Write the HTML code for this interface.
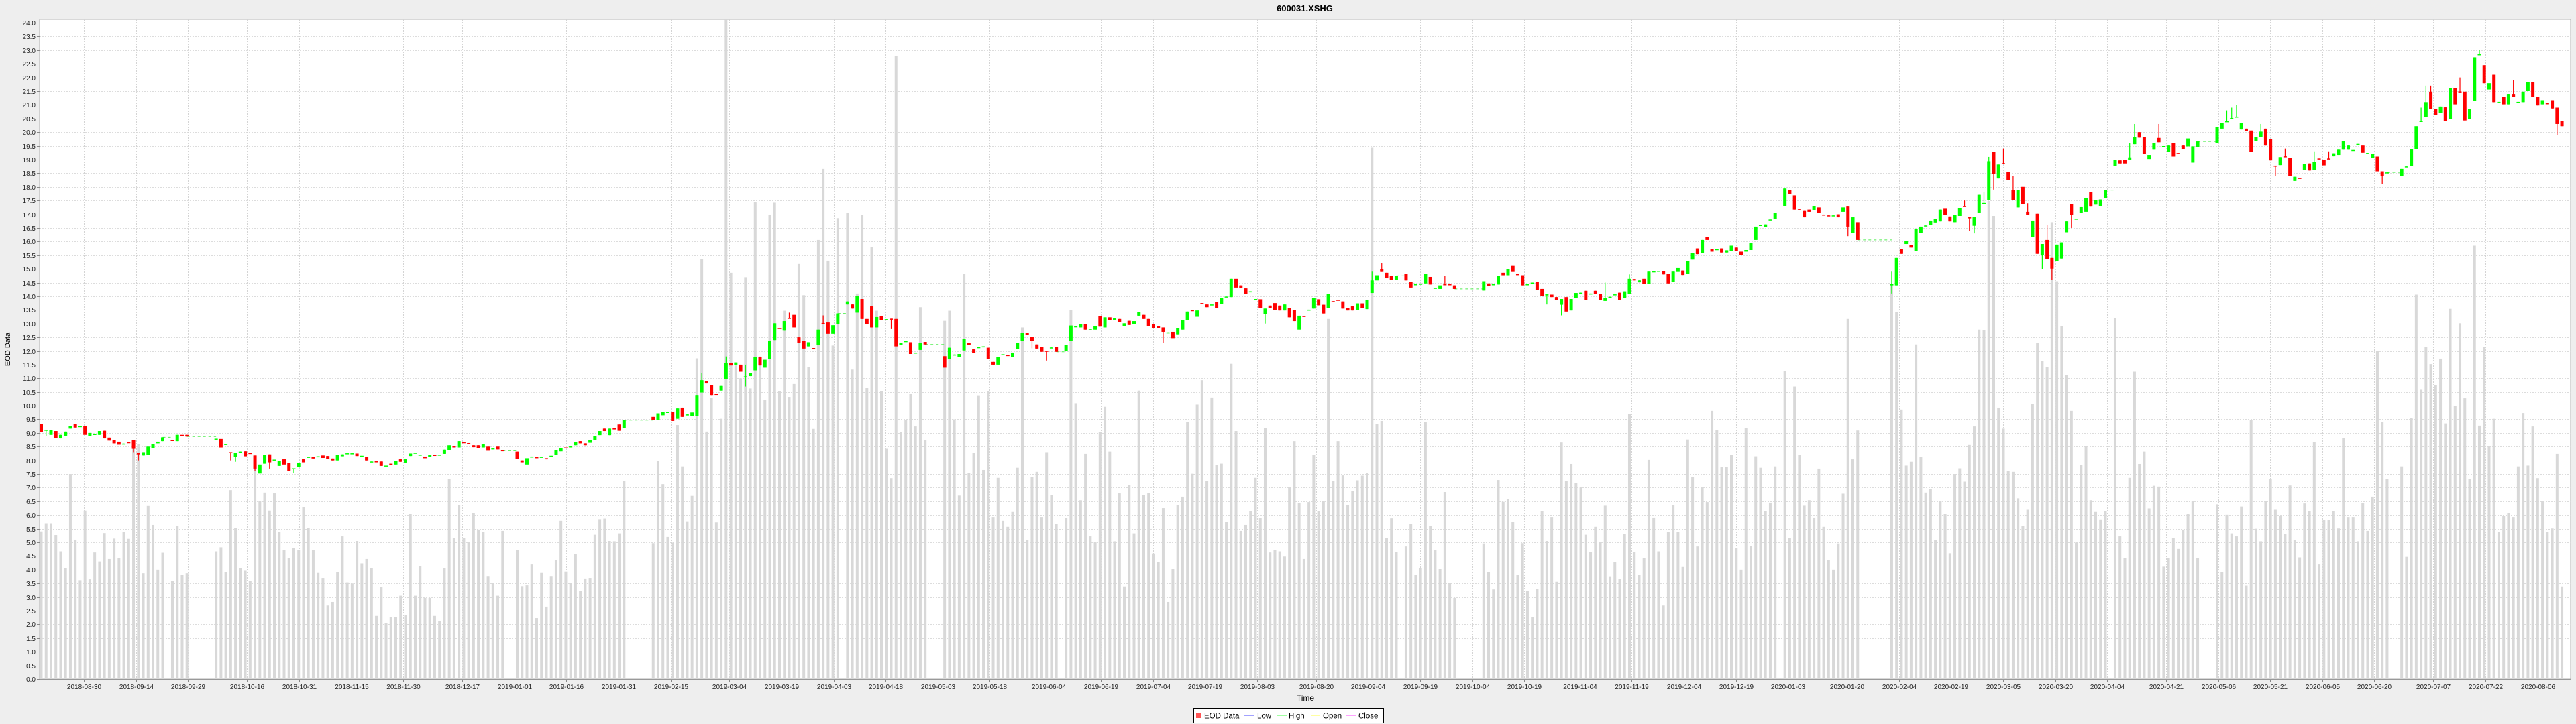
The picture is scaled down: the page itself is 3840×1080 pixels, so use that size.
<!DOCTYPE html>
<html><head><meta charset="utf-8"><title>600031.XSHG</title>
<style>
html,body{margin:0;padding:0;background:#eeeeee;}
body{width:3840px;height:1080px;overflow:hidden;font-family:"Liberation Sans",sans-serif;}
svg{display:block;}
</style></head>
<body>
<svg id="chart" width="3840" height="1080" xmlns="http://www.w3.org/2000/svg">
<rect x="0" y="0" width="3840" height="1080" fill="#eeeeee"/>
<text x="1945" y="17" text-anchor="middle" font-family="Liberation Sans, sans-serif" font-weight="bold" font-size="13" fill="#000">600031.XSHG</text>
<rect x="59" y="29" width="3773" height="984" fill="#ffffff" stroke="#b0b0b0" stroke-width="1"/>
<g id="grid"></g>
<g id="vol"></g>
<g id="gaps"></g>
<g id="candles"></g>
<g id="yaxis"></g>
<g id="xaxis"></g>
<text x="0" y="0" transform="translate(15,521) rotate(-90)" text-anchor="middle" font-size="11" fill="#000" font-family="Liberation Sans, sans-serif">EOD Data</text>
<text x="1946" y="1045" text-anchor="middle" font-size="12" fill="#000" font-family="Liberation Sans, sans-serif">Time</text>
<g>
<rect x="1779.5" y="1056.5" width="283" height="22" fill="#ffffff" stroke="#000" stroke-width="1"/>
<rect x="1783" y="1063" width="7" height="8" fill="#ff5555"/>
<text x="1795" y="1071.5" font-size="11.5" fill="#000">EOD Data</text>
<line x1="1855" y1="1067" x2="1870" y2="1067" stroke="#4444ff"/>
<text x="1874" y="1071.5" font-size="11.5" fill="#000">Low</text>
<line x1="1903" y1="1067" x2="1918" y2="1067" stroke="#44ff44"/>
<text x="1921" y="1071.5" font-size="11.5" fill="#000">High</text>
<line x1="1955" y1="1067" x2="1967" y2="1067" stroke="#ffff44"/>
<text x="1972" y="1071.5" font-size="11.5" fill="#000">Open</text>
<line x1="2007" y1="1067" x2="2022" y2="1067" stroke="#ff44ff"/>
<text x="2025" y="1071.5" font-size="11.5" fill="#000">Close</text>
</g>
</svg>
<script>
const N = null;
const opens = [
9.32,9.08,8.93,9.07,8.80,8.90,9.16,9.32,9.23,9.25,
8.88,8.94,8.93,9.08,8.83,8.75,8.68,8.59,8.66,8.74,
8.27,8.18,8.20,8.45,8.62,8.70,N,8.74,8.70,8.93,
8.93,N,N,N,N,N,8.77,8.78,8.56,8.30,
8.13,8.30,8.33,8.27,8.18,7.52,7.88,8.22,8.01,7.80,
8.04,7.90,7.69,7.75,8.04,8.11,8.13,8.13,8.18,8.16,
8.07,8.00,8.15,8.24,8.24,8.25,8.15,8.12,7.94,7.98,
7.96,7.79,7.88,7.85,8.04,7.92,8.16,8.26,8.19,8.14,
8.13,8.20,8.19,8.24,8.36,8.53,8.47,8.66,8.63,8.55,
8.55,8.47,8.50,8.40,8.50,8.37,N,N,8.32,8.00,
7.85,8.12,8.13,8.11,8.08,8.15,8.20,8.33,8.47,8.47,
8.55,8.70,8.62,8.64,8.75,8.92,9.16,8.92,9.19,9.31,
9.19,N,N,N,N,N,9.59,9.47,9.65,9.75,
9.76,9.52,9.93,9.66,9.62,9.62,10.48,10.89,10.76,10.43,
10.55,10.98,11.55,11.50,11.50,11.05,11.08,11.29,11.78,11.39,
11.71,12.40,12.84,12.74,13.21,13.32,12.50,12.37,12.17,12.11,
12.21,13.02,13.04,12.63,12.98,N,13.70,13.70,13.40,13.90,
13.17,13.63,12.86,13.27,13.14,13.18,13.17,12.21,12.34,12.32,
11.92,12.04,12.33,N,N,N,11.81,11.70,11.85,11.78,
12.02,12.29,12.06,12.12,12.15,12.12,11.60,11.50,11.86,11.85,
11.79,12.07,12.37,12.66,12.52,12.24,12.15,12.01,12.11,12.15,
N,11.99,12.37,12.88,12.86,12.98,12.77,12.78,13.27,12.86,
13.23,13.14,13.17,12.92,13.10,12.99,13.29,13.32,13.17,12.98,
12.92,12.86,12.66,12.70,12.61,12.78,13.14,13.49,13.25,13.75,
13.70,13.68,13.80,13.72,13.97,13.97,14.64,14.40,14.29,14.16,
13.88,13.89,13.35,13.66,13.75,13.66,13.48,13.57,13.50,12.78,
13.28,13.49,13.55,13.89,13.69,13.58,13.82,13.87,13.81,13.58,
13.63,13.50,13.74,13.53,14.12,14.58,14.98,14.86,14.74,14.60,
N,14.81,14.52,14.42,14.44,14.47,14.71,14.29,14.27,14.44,
14.44,14.40,N,N,N,N,N,14.21,14.47,14.42,
14.43,14.86,14.77,15.11,14.81,14.77,14.42,14.48,14.52,14.27,
14.05,14.06,13.97,13.69,13.97,13.48,13.94,14.11,14.20,14.08,
14.20,14.09,13.83,13.96,14.05,14.13,13.94,14.09,14.63,14.51,
14.64,14.44,14.89,14.91,14.92,14.81,14.53,14.89,14.94,14.81,
15.34,15.75,15.57,16.18,15.72,15.70,15.75,15.60,15.65,15.78,
15.63,15.63,15.69,16.06,16.59,16.54,16.79,16.83,N,17.29,
17.88,17.69,17.18,17.12,17.17,17.14,17.25,16.99,16.96,16.94,
17.00,17.09,17.28,16.32,16.71,N,N,N,N,N,
N,14.40,14.40,15.73,15.91,15.88,15.66,16.32,16.57,16.62,
16.70,16.74,17.20,16.92,16.71,16.94,17.30,16.89,16.58,17.05,
17.39,17.51,19.29,18.31,18.87,18.55,17.89,17.25,18.00,17.09,
16.17,17.02,15.51,16.06,15.40,15.28,15.38,16.34,17.37,16.82,
17.05,17.09,17.82,17.35,17.29,17.60,N,18.76,18.97,18.99,
18.99,19.56,20.00,19.83,19.02,19.36,19.79,19.47,19.29,19.60,
19.24,19.51,19.48,18.89,19.45,N,N,N,19.59,20.13,
20.38,20.50,20.55,20.10,20.13,20.06,19.68,19.82,20.13,19.74,
18.78,18.80,19.12,19.06,18.22,18.33,18.63,18.86,18.62,19.04,
19.00,19.04,19.12,19.17,19.36,19.36,19.33,19.55,19.51,19.22,
19.05,19.11,18.57,18.51,N,N,18.40,18.73,18.77,19.37,
20.39,20.56,21.48,20.84,20.71,20.91,20.48,21.60,21.49,21.48,
20.48,21.14,22.83,22.45,21.56,22.10,21.09,21.30,21.02,21.40,
21.09,21.10,21.51,21.82,21.30,21.02,21.06,21.17,20.90,20.40];
const closes = [
9.04,9.12,9.10,8.82,8.93,9.05,9.25,9.20,9.25,8.93,
9.00,8.96,9.07,8.80,8.72,8.62,8.57,8.61,8.64,8.42,
8.22,8.30,8.50,8.60,8.68,8.84,N,8.72,8.93,8.88,
8.87,N,N,N,N,N,8.79,8.47,8.60,8.28,
8.28,8.32,8.15,8.24,7.70,7.85,8.20,7.93,8.03,7.98,
7.85,7.62,7.71,7.90,7.93,8.13,8.07,8.15,8.09,8.05,
8.00,8.19,8.22,8.26,8.26,8.16,8.17,8.00,7.96,7.93,
7.80,7.81,7.86,7.99,7.95,8.04,8.25,8.28,8.21,8.08,
8.19,8.18,8.21,8.39,8.55,8.47,8.70,8.64,8.61,8.48,
8.45,8.58,8.35,8.45,8.40,8.35,N,N,8.05,7.93,
8.08,8.14,8.08,8.13,8.04,8.17,8.38,8.45,8.45,8.53,
8.67,8.62,8.55,8.73,8.89,9.07,9.07,9.16,9.13,9.08,
9.47,N,N,N,N,N,9.47,9.72,9.78,9.77,
9.44,9.90,9.59,9.68,9.75,10.39,10.93,10.81,10.39,10.41,
10.72,11.55,11.47,11.58,11.24,11.07,11.19,11.78,11.47,11.68,
12.37,13.01,12.82,13.09,13.19,12.86,12.30,12.09,12.32,12.09,
12.78,13.00,12.63,12.94,13.37,N,13.81,13.55,14.02,13.17,
12.98,12.86,13.24,13.12,13.16,13.16,12.17,12.30,12.36,11.89,
11.94,12.30,12.24,N,N,N,11.39,12.12,11.87,11.89,
12.45,12.21,11.93,12.14,12.17,11.70,11.50,11.79,11.88,11.83,
11.94,12.30,12.67,12.58,12.37,12.09,11.97,11.97,12.13,11.97,
N,12.21,12.93,12.90,12.98,12.78,12.79,12.90,12.89,13.23,
13.12,13.20,13.06,13.01,12.95,13.09,13.42,13.17,12.92,12.84,
12.83,12.70,12.68,12.47,12.83,13.14,13.44,13.47,13.48,13.73,
13.60,13.70,13.58,13.94,13.99,14.64,14.32,14.30,14.09,14.18,
13.90,13.58,13.55,13.58,13.49,13.48,13.70,13.23,13.09,13.29,
13.26,13.51,13.94,13.67,13.37,14.09,13.80,13.85,13.55,13.48,
13.48,13.74,13.58,13.86,14.58,14.77,14.89,14.66,14.61,14.75,
N,14.58,14.32,14.44,14.46,14.81,14.43,14.31,14.40,14.42,
14.42,14.27,N,N,N,N,N,14.55,14.37,14.44,
14.74,14.77,14.98,14.89,14.79,14.40,14.44,14.50,14.24,14.01,
14.07,13.97,13.87,13.90,13.44,13.90,14.12,14.13,13.86,14.10,
14.09,13.87,13.94,13.98,14.07,13.87,14.18,14.64,14.58,14.58,
14.44,14.90,14.91,14.93,14.80,14.47,14.90,15.03,14.78,15.29,
15.57,15.54,16.06,16.06,15.63,15.72,15.60,15.68,15.85,15.66,
15.51,15.69,15.94,16.55,16.61,16.63,16.81,17.05,N,17.94,
17.75,17.17,17.16,16.89,17.09,17.29,17.05,16.97,16.94,16.96,
16.89,17.25,16.55,16.89,16.06,N,N,N,N,N,
N,14.45,15.40,15.55,16.02,15.78,16.45,16.55,16.59,16.77,
16.84,17.17,16.98,16.74,16.98,17.22,17.28,16.86,16.91,17.71,
17.41,18.94,18.48,18.82,18.85,18.25,17.52,17.89,17.38,16.98,
16.77,15.55,15.91,15.37,15.01,15.89,15.97,16.74,16.98,16.84,
17.26,17.60,17.28,17.51,17.54,17.88,N,18.99,18.86,18.86,
19.08,19.82,19.80,19.20,19.17,19.59,19.63,19.49,19.51,19.11,
19.22,19.37,19.77,19.48,19.66,N,N,N,20.20,20.33,
20.40,20.52,20.57,20.33,20.03,19.29,19.82,20.02,19.51,18.97,
18.76,19.09,19.10,18.40,18.37,18.31,18.83,18.60,18.91,19.02,
18.79,19.02,19.23,19.36,19.68,19.51,19.35,19.57,19.25,19.24,
19.20,18.57,18.40,18.53,N,N,18.66,18.75,19.39,20.22,
20.41,21.10,20.84,20.63,20.94,20.40,21.60,21.02,21.47,20.43,
20.84,22.74,22.85,21.79,21.79,21.10,21.11,21.02,21.40,21.30,
21.11,21.48,21.82,21.30,20.98,21.17,21.04,20.87,20.30,20.22];
const volumes = [
5.4,5.7,5.7,5.27,4.67,4.05,7.5,5.1,3.62,6.16,
3.65,4.63,4.3,5.34,4.39,5.14,4.42,5.39,5.13,8.62,
8.58,3.87,6.33,5.64,4.0,4.62,N,3.6,5.59,3.8,
3.87,N,N,N,N,N,4.67,4.82,3.91,6.91,
5.54,4.05,3.96,3.59,7.75,6.51,6.82,6.16,6.79,5.39,
4.73,4.42,4.79,4.73,6.28,5.54,4.73,3.88,3.7,2.69,
2.82,3.9,5.22,3.54,3.5,5.05,4.23,4.39,4.05,2.31,
3.36,2.05,2.26,2.26,3.05,2.33,6.05,3.05,4.13,2.97,
2.97,2.31,2.13,4.05,7.31,5.17,6.36,5.17,5.0,6.08,
5.47,5.37,3.77,3.53,3.05,5.42,N,N,4.73,3.4,
3.43,4.19,2.23,3.88,2.65,3.77,4.34,5.79,3.93,3.53,
4.57,3.22,3.68,3.7,5.28,5.85,5.87,5.05,5.04,5.33,
7.24,N,N,N,N,N,4.97,7.98,7.13,5.2,
4.99,9.29,7.78,5.77,6.7,11.73,15.37,9.05,10.29,5.73,
9.52,24.1,14.86,11.47,11.0,14.7,10.63,17.43,11.8,10.2,
16.99,17.42,10.52,13.47,10.32,10.79,15.18,14.04,11.4,9.15,
16.06,18.66,15.3,12.2,16.86,N,17.06,11.32,14.1,16.97,
10.64,15.81,13.47,10.52,8.42,7.35,22.79,9.04,9.47,10.44,
9.24,13.6,8.75,N,N,N,13.1,13.47,9.5,6.71,
14.83,7.55,8.27,10.38,7.65,10.53,5.93,7.36,5.79,5.57,
6.11,7.73,12.86,5.08,7.38,7.58,5.93,8.3,6.73,5.68,
N,5.9,13.5,10.09,6.54,8.24,5.22,5.0,9.04,9.96,
8.32,5.04,6.79,3.39,7.1,5.33,10.55,6.73,6.81,4.59,
4.27,6.25,2.82,4.02,6.36,6.67,9.39,7.51,10.04,10.93,
7.25,10.3,7.84,7.88,5.74,11.53,9.07,5.42,5.64,6.14,
7.36,5.9,9.18,4.63,4.71,4.67,4.48,7.01,8.7,6.44,
4.39,6.47,8.21,6.13,6.5,13.17,7.24,8.7,7.45,6.36,
6.88,7.27,7.44,7.55,19.43,9.32,9.44,5.17,5.88,4.65,
N,4.85,5.68,3.8,4.05,9.39,5.59,4.73,4.02,6.84,
3.51,2.97,N,N,N,N,N,4.96,3.9,3.28,
7.28,6.48,6.58,5.76,3.82,4.97,3.23,2.28,3.3,6.13,
5.05,5.93,3.56,8.65,7.25,7.87,7.16,7.01,5.28,4.65,
5.57,5.0,6.34,3.76,4.27,3.66,5.3,9.69,4.65,3.82,
4.43,8.02,5.91,4.67,2.69,5.39,6.36,5.39,4.1,8.76,
7.39,4.85,7.01,6.47,9.81,9.12,7.75,7.75,8.19,4.8,
4.0,9.19,4.87,8.15,7.73,6.13,6.45,7.78,N,11.27,
5.17,10.7,8.21,6.34,6.54,5.91,7.7,5.57,4.34,4.0,
4.96,6.78,13.17,8.04,9.09,N,N,N,N,N,
N,14.44,13.43,9.86,7.81,7.95,12.24,8.12,6.82,6.96,
5.08,6.5,6.04,4.6,7.5,7.71,7.22,8.56,9.24,12.78,
12.75,17.48,16.94,9.93,9.16,7.62,7.58,6.61,5.61,6.19,
10.06,12.29,11.63,11.41,16.71,14.55,12.9,11.12,9.81,4.99,
7.84,8.52,6.54,6.11,5.84,6.14,N,13.21,5.22,4.43,
7.36,11.24,7.87,8.32,6.24,7.07,7.04,4.11,4.42,5.17,
4.76,5.47,6.04,6.5,4.42,N,N,N,6.39,3.91,
6.01,5.33,5.22,6.31,3.42,9.47,5.5,5.04,6.5,7.33,
6.19,5.97,5.31,7.08,5.08,4.45,6.42,6.13,8.67,4.19,
5.82,5.82,6.13,5.51,8.82,5.93,5.93,5.04,6.44,5.42,
6.67,12.01,9.39,7.33,N,N,7.78,4.47,9.55,14.06,
10.58,12.16,11.52,10.76,11.72,9.35,13.54,9.98,13.01,10.27,
7.33,15.85,9.27,12.16,8.53,9.52,5.39,5.96,6.08,5.93,
7.78,9.73,7.81,9.24,7.35,6.5,5.39,5.51,8.24,3.39];
// explicit wick extremes (slot index -> price); otherwise wick spans body
const highs = {136:11.2,141:11.8,145:11.5,154:13.4,161:13.3,274:14.9,276:15.2,289:14.75,322:14.5,327:14.8,
381:14.9,396:17.5,400:17.8,401:19.1,404:19.4,406:18.4,409:17.4,413:16.6,430:19.6,431:20.3,436:20.3,
450:20.8,451:20.9,452:21.0,457:20.3,462:19.4,468:19.3,471:19.3,490:20.9,491:21.7,492:21.7,498:22.0,502:23.0,509:21.9};
const lows = {1:8.9,19:8.3,20:8.0,39:8.0,40:7.95,44:7.6,47:7.7,52:7.55,145:10.7,175:12.8,204:12.1,207:11.65,
231:12.3,252:13.0,310:13.7,313:13.3,372:16.2,381:14.1,397:16.4,398:16.3,402:17.9,412:15.0,414:14.6,418:16.5,
460:18.4,482:18.1,518:19.9};
const tickLabels = ["2018-08-30","2018-09-14","2018-09-29","2018-10-16","2018-10-31","2018-11-15","2018-11-30","2018-12-17",
"2019-01-01","2019-01-16","2019-01-31","2019-02-15","2019-03-04","2019-03-19","2019-04-03","2019-04-18","2019-05-03",
"2019-05-18","2019-06-04","2019-06-19","2019-07-04","2019-07-19","2019-08-03","2019-08-20","2019-09-04","2019-09-19",
"2019-10-04","2019-10-19","2019-11-04","2019-11-19","2019-12-04","2019-12-19","2020-01-03","2020-01-20","2020-02-04",
"2020-02-19","2020-03-05","2020-03-20","2020-04-04","2020-04-21","2020-05-06","2020-05-21","2020-06-05","2020-06-20",
"2020-07-07","2020-07-22","2020-08-06"];

const NS = "http://www.w3.org/2000/svg";
const PX0 = 59, PX1 = 3832, PY0 = 29, PY1 = 1013;
const xSlot = i => 61.5 + i * 7.24;
const yVal = v => PY1 - v * 40.79;
const REF = Date.UTC(2018, 7, 30);
const xDate = s => { const p = s.split("-"); return 125.3 + (Date.UTC(+p[0], +p[1]-1, +p[2]) - REF) / 86400000 * 5.173; };
function mk(tag, attrs, parent) { const e = document.createElementNS(NS, tag); for (const k in attrs) e.setAttribute(k, attrs[k]); parent.appendChild(e); return e; }

const grid = document.getElementById("grid");
const yaxis = document.getElementById("yaxis");
const xaxis = document.getElementById("xaxis");
for (let k = 0; k <= 48; k++) {
  const v = k * 0.5, yy = Math.round(yVal(v)) + 0.5;
  const gl = mk("line", {x1: PX0, x2: PX1, y1: yy, y2: yy, stroke: "#dcdcdc", "stroke-width": 1, "stroke-dasharray": "2,2"}, grid);
  
  
  const tk = mk("line", {x1: PX0 - 4, x2: PX0, y1: yy, y2: yy, stroke: "#888"}, yaxis);
  
  
  const t = mk("text", {x: PX0 - 6, y: yy + 3.5, "text-anchor": "end", "font-size": 10, fill: "#222", "font-family": "Liberation Sans, sans-serif"}, yaxis);
  
  
  t.textContent = v.toFixed(1);
}
tickLabels.forEach(s => {
  const xx = Math.round(xDate(s)) + 0.5;
  const gl = mk("line", {x1: xx, x2: xx, y1: PY0, y2: PY1, stroke: "#d4d4d4", "stroke-width": 1, "stroke-dasharray": "2,2"}, grid);
  
  
  const tk = mk("line", {x1: xx, x2: xx, y1: PY1, y2: PY1 + 4, stroke: "#888"}, xaxis);
  
  
  const t = mk("text", {x: xx, y: PY1 + 15, "text-anchor": "middle", "font-size": 10, fill: "#222", "font-family": "Liberation Sans, sans-serif"}, xaxis);
  
  
  t.textContent = s;
});
const axl = mk("line", {x1: PX0 + 0.5, x2: PX0 + 0.5, y1: PY0, y2: PY1, stroke: "#999"}, yaxis);


const bxl = mk("line", {x1: PX0, x2: PX1, y1: PY1 + 0.5, y2: PY1 + 0.5, stroke: "#999"}, xaxis);



const vol = document.getElementById("vol");
volumes.forEach((v, i) => {
  if (v === null) return;
  const top = Math.max(PY0, yVal(v));
  const r = mk("rect", {x: xSlot(i) - 2, y: top, width: 4, height: PY1 - top, fill: "#d8d8d8"}, vol);
  
  
});

const gaps = document.getElementById("gaps");
let prev = -1;
closes.forEach((c, i) => {
  if (c === null) return;
  if (prev >= 0 && i - prev > 1) {
    const yy = yVal(closes[prev]);
    const g = mk("line", {x1: xSlot(prev), x2: xSlot(i), y1: yy, y2: yy, stroke: "#55ee55", "stroke-width": 1, "stroke-dasharray": "4,4"}, gaps);
    
    
  }
  prev = i;
});

const cg = document.getElementById("candles");
closes.forEach((c, i) => {
  const o = opens[i];
  if (c === null || o === null) return;
  const up = c >= o;
  const col = up ? "#00ff00" : "#ff0000";
  const hi = highs[i] !== undefined ? highs[i] : Math.max(o, c);
  const lo = lows[i] !== undefined ? lows[i] : Math.min(o, c);
  const xc = xSlot(i);
  const w = mk("line", {x1: xc, x2: xc, y1: yVal(hi), y2: yVal(lo), stroke: col, "stroke-width": 1.2}, cg);
  
  
  const yt = yVal(Math.max(o, c)), yb = yVal(Math.min(o, c));
  const b = mk("rect", {x: xc - 2.5, y: yt, width: 5, height: Math.max(1.5, yb - yt), fill: col}, cg);
  
  
});
</script>
</body></html>
